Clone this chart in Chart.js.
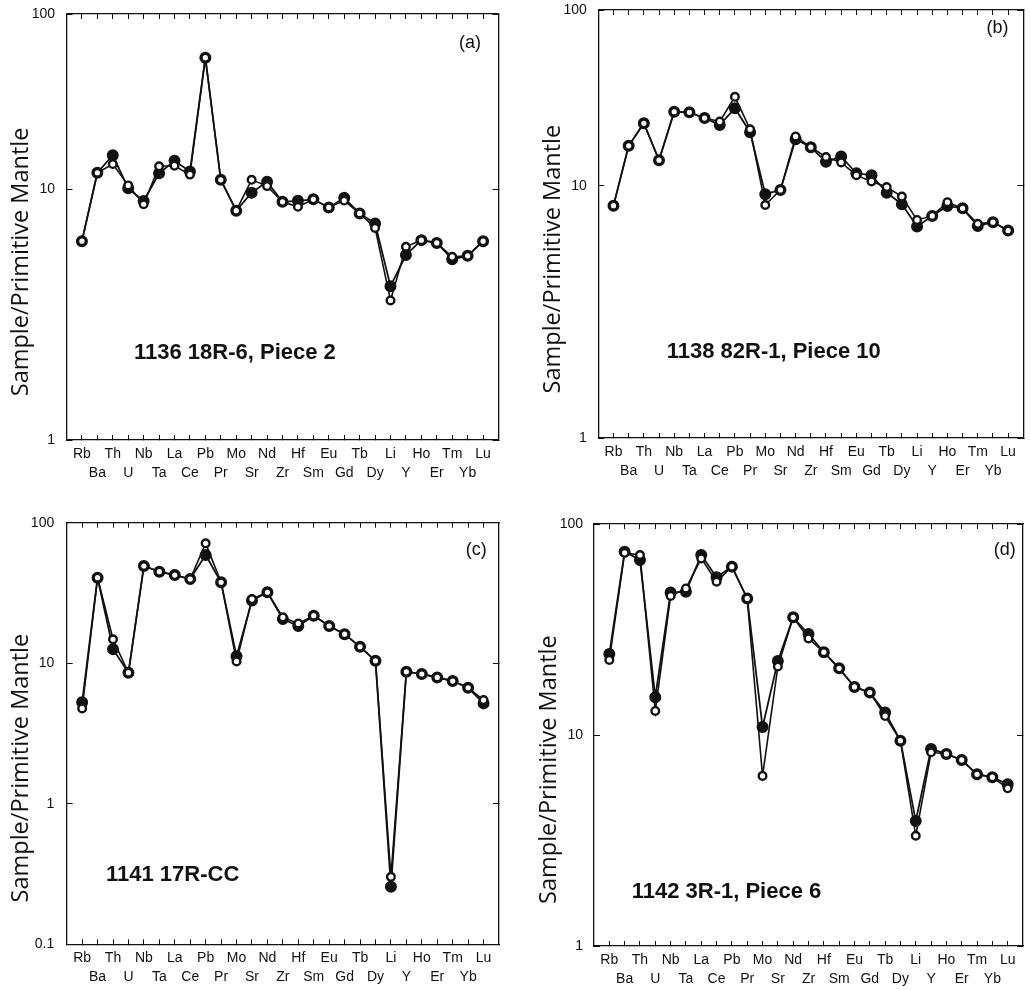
<!DOCTYPE html>
<html>
<head>
<meta charset="utf-8">
<script src="https://cdn.jsdelivr.net/npm/chart.js@4/dist/chart.umd.min.js"></script>
<style>
  html, body { margin: 0; background: #fff; }
  #wrap { position: relative; width: 1030px; height: 990px; }
  .panel { position: absolute; width: 515px; height: 495px; }
</style>
</head>
<body>
<div id="wrap">
  <div class="panel" style="left:0;top:0"><canvas id="pa" width="515" height="495"></canvas></div>
  <div class="panel" style="left:515px;top:0"><canvas id="pb" width="515" height="495"></canvas></div>
  <div class="panel" style="left:0;top:495px"><canvas id="pc" width="515" height="495"></canvas></div>
  <div class="panel" style="left:515px;top:495px"><canvas id="pd" width="515" height="495"></canvas></div>
</div>
<script>
var elements = ["Rb","Ba","Th","U","Nb","Ta","La","Ce","Pb","Pr","Mo","Sr","Nd","Zr",
                "Hf","Sm","Eu","Gd","Tb","Dy","Li","Y","Ho","Er","Tm","Yb","Lu"];

// primitive-mantle normalised, one pair (filled / open symbols) per sample
var s1136Filled = [6.2, 12.4, 15.6, 10.1, 8.96, 12.3, 14.5, 12.6, 56.3, 11.3, 8.2, 9.67, 11.0, 8.9,
                   8.98, 9.1, 8.45, 9.23, 8.0, 7.3, 4.1, 5.46, 6.26, 6.1, 5.25, 5.42, 6.2];
var s1136Open   = [6.2, 12.4, 13.9, 10.5, 8.7, 13.5, 13.6, 12.1, 56.3, 11.3, 8.2, 11.3, 10.4, 8.9,
                   8.5, 9.1, 8.45, 9.0, 8.0, 7.0, 3.6, 5.89, 6.26, 6.1, 5.37, 5.42, 6.2];

var s1138Filled = [8.35, 16.9, 22.7, 14.0, 26.4, 26.2, 24.3, 22.2, 27.6, 20.2, 9.27, 9.64, 18.4, 16.6,
                   13.7, 14.7, 11.8, 11.5, 9.4, 8.46, 6.9, 7.6, 8.33, 8.15, 6.94, 7.18, 6.65];
var s1138Open   = [8.35, 16.9, 22.7, 14.0, 26.4, 26.2, 24.3, 23.2, 32.1, 21.0, 8.4, 9.64, 19.1, 16.6,
                   14.6, 13.6, 11.5, 10.6, 9.9, 9.07, 7.33, 7.6, 8.62, 8.15, 7.07, 7.18, 6.65];

var s1141Filled = [5.27, 40.6, 12.6, 8.56, 49.2, 44.8, 42.4, 39.7, 58.9, 37.7, 11.2, 27.9, 32.0, 20.6,
                   18.4, 21.8, 18.4, 16.1, 13.1, 10.4, 0.257, 8.7, 8.38, 7.93, 7.47, 6.69, 5.18];
var s1141Open   = [4.77, 40.6, 14.8, 8.56, 49.2, 44.8, 42.4, 39.7, 71.3, 37.7, 10.3, 28.6, 32.0, 21.2,
                   19.2, 21.8, 18.4, 16.1, 13.1, 10.4, 0.302, 8.7, 8.38, 7.93, 7.47, 6.69, 5.47];

var s1142Filled = [24.2, 73.9, 67.5, 15.1, 47.3, 47.8, 71.3, 55.9, 62.8, 44.4, 10.9, 22.4, 36.1, 30.1,
                   24.7, 20.7, 16.9, 15.9, 12.8, 9.4, 3.91, 8.58, 8.13, 7.62, 6.51, 6.31, 5.84];
var s1142Open   = [22.7, 73.0, 71.3, 13.0, 45.6, 49.5, 68.7, 53.3, 62.8, 44.4, 6.4, 21.1, 36.1, 28.7,
                   24.7, 20.7, 16.9, 15.9, 12.3, 9.4, 3.33, 8.28, 8.13, 7.62, 6.51, 6.31, 5.59];

var ticksTop    = [1, 10, 100];
var ticksDeep   = [0.1, 1, 10, 100];

var INK  = "#111";
var SANS = "'Liberation Sans', Arial, Helvetica, sans-serif";

// log axis whose two decades don't get the same height: the 1-10 decade takes
// kneeAt of the axis, 10-100 gets the rest (top two plots are drawn like that)
class BentLog extends Chart.LogarithmicScale {
  _dec(v) {
    var lo = Math.log10(this.min), hi = Math.log10(this.max);
    var k = Math.log10(this.options.kneeValue), at = this.options.kneeAt;
    var l = Math.log10(v);
    if (l <= k) return at * (l - lo) / (k - lo);
    return at + (1 - at) * (l - k) / (hi - k);
  }
  getPixelForValue(v) {
    if (v == null || isNaN(v) || v <= 0) return NaN;
    return this.getPixelForDecimal(this._dec(v));
  }
  getValueForPixel(px) {
    var d = this.getDecimalForPixel(px);
    var lo = Math.log10(this.min), hi = Math.log10(this.max);
    var k = Math.log10(this.options.kneeValue), at = this.options.kneeAt;
    var l = d <= at ? lo + (k - lo) * d / at : k + (hi - k) * (d - at) / (1 - at);
    return Math.pow(10, l);
  }
}
BentLog.id = "bentLog";
BentLog.defaults = {};
Chart.register(BentLog);

// sample name, panel letter and the rotated y title
var panelText = {
  id: "panelText",
  afterDraw: function(chart, args, o) {
    var ctx = chart.ctx, a = chart.chartArea;
    ctx.save();
    ctx.fillStyle = INK;
    ctx.textBaseline = "middle";
    ctx.textAlign = "left";
    ctx.font = "bold 22px " + SANS;
    ctx.fillText(o.sample, a.left + o.sx, a.top + o.sy);
    ctx.textAlign = "right";
    ctx.font = "18px " + SANS;
    ctx.fillText(o.letter, a.right - o.lx, a.top + o.ly);

    ctx.translate(a.left - 38.5, a.top + (a.bottom - a.top) * 0.582);
    ctx.rotate(-Math.PI / 2);
    ctx.textAlign = "center";
    ctx.textBaseline = "alphabetic";
    ctx.font = "23.5px 'Open Sans', 'Noto Sans', sans-serif";
    ctx.fillText("Sample/Primitive Mantle", 0, 0);
    ctx.restore();
  }
};

function pts(arr) {
  return arr.map(function(v, i) { return { x: i, y: v }; });
}

// axis boxes get a fixed size; label overflow padding is dropped so the
// plot area lands exactly where the layout says
function xAxis(pos, band) {
  return {
    type: "linear",
    position: pos,
    min: -1,
    max: 27,
    afterBuildTicks: function(s) { s.ticks = elements.map(function(e, i) { return { value: i }; }); },
    afterFit: function(s) { s.height = band; s.paddingLeft = 0; s.paddingRight = 0; },
    ticks: {
      display: pos === "bottom",
      autoSkip: false,
      maxRotation: 0,
      minRotation: 0,
      padding: 10,
      color: INK,
      font: { family: SANS, size: 14, lineHeight: "18.5px" },
      // two staggered rows of element names
      callback: function(v, i) {
        var n = elements[Math.round(v)];
        return i % 2 ? ["", n] : [n, ""];
      }
    },
    grid: { drawOnChartArea: false, drawTicks: true, tickLength: -5, color: INK, lineWidth: 1 },
    border: { display: true, color: INK, width: 1.3 }
  };
}

function yAxis(pos, p, band) {
  return {
    type: p.knee ? "bentLog" : "logarithmic",
    position: pos,
    min: p.yTicks[0],
    max: p.yTicks[p.yTicks.length - 1],
    kneeValue: 10,
    kneeAt: p.knee,
    afterBuildTicks: function(s) { s.ticks = p.yTicks.map(function(v) { return { value: v }; }); },
    afterFit: function(s) { s.width = band; s.paddingTop = 0; s.paddingBottom = 0; },
    ticks: {
      display: pos === "left",
      padding: p.tickGap + 6,
      color: INK,
      font: { family: SANS, size: 14 },
      callback: function(v) { return String(v); }
    },
    grid: { drawOnChartArea: false, drawTicks: true, tickLength: -6, color: INK, lineWidth: 1 },
    border: { display: true, color: INK, width: 1.3 }
  };
}

function mkPanel(id, p) {
  return new Chart(document.getElementById(id), {
    type: "line",
    data: {
      datasets: [
        {
          // open symbols sit on top of the filled ones
          data: pts(p.open),
          borderColor: INK,
          borderWidth: 1.6,
          pointRadius: 3.8,
          pointBorderWidth: 2.4,
          pointBackgroundColor: "#fff",
          pointBorderColor: INK,
          tension: 0
        },
        {
          data: pts(p.filled),
          borderColor: INK,
          borderWidth: 1.8,
          pointRadius: 5.3,
          pointBorderWidth: 1.4,
          pointBackgroundColor: INK,
          pointBorderColor: INK,
          tension: 0
        }
      ]
    },
    options: {
      responsive: false,
      devicePixelRatio: 1,
      animation: false,
      events: [],
      layout: { padding: { left: 0, bottom: 0, top: p.box.top, right: p.box.right } },
      scales: {
        x:  xAxis("bottom", p.box.bottom),
        x2: xAxis("top", 0),
        y:  yAxis("left", p, p.box.left),
        y2: yAxis("right", p, 0)
      },
      plugins: {
        legend: { display: false },
        tooltip: { enabled: false },
        panelText: p.text
      }
    },
    plugins: [panelText]
  });
}

mkPanel("pa", {
  filled: s1136Filled, open: s1136Open, yTicks: ticksTop, knee: 0.589, tickGap: 11.5,
  box: { left: 66.5, top: 14, right: 16.5, bottom: 55 },
  text: { sample: "1136 18R-6, Piece 2", sx: 67.5, sy: 338.7, letter: "(a)", lx: 17.5, ly: 29 }
});
mkPanel("pb", {
  filled: s1138Filled, open: s1138Open, yTicks: ticksTop, knee: 0.589, tickGap: 11.5,
  box: { left: 83.3, top: 10, right: 2, bottom: 57 },
  text: { sample: "1138 82R-1, Piece 10", sx: 68.4, sy: 341.7, letter: "(b)", lx: 14.7, ly: 18.3 }
});
mkPanel("pc", {
  filled: s1141Filled, open: s1141Open, yTicks: ticksDeep, knee: 0, tickGap: 12.5,
  box: { left: 66.7, top: 27.7, right: 16, bottom: 45.7 },
  text: { sample: "1141 17R-CC", sx: 39.3, sy: 352.3, letter: "(c)", lx: 12.3, ly: 27.3 }
});
mkPanel("pd", {
  filled: s1142Filled, open: s1142Open, yTicks: ticksTop, knee: 0, tickGap: 11,
  box: { left: 79, top: 29, right: 7, bottom: 44 },
  text: { sample: "1142 3R-1, Piece 6", sx: 37.7, sy: 367.7, letter: "(d)", lx: 7.3, ly: 26 }
});
</script>
</body>
</html>
